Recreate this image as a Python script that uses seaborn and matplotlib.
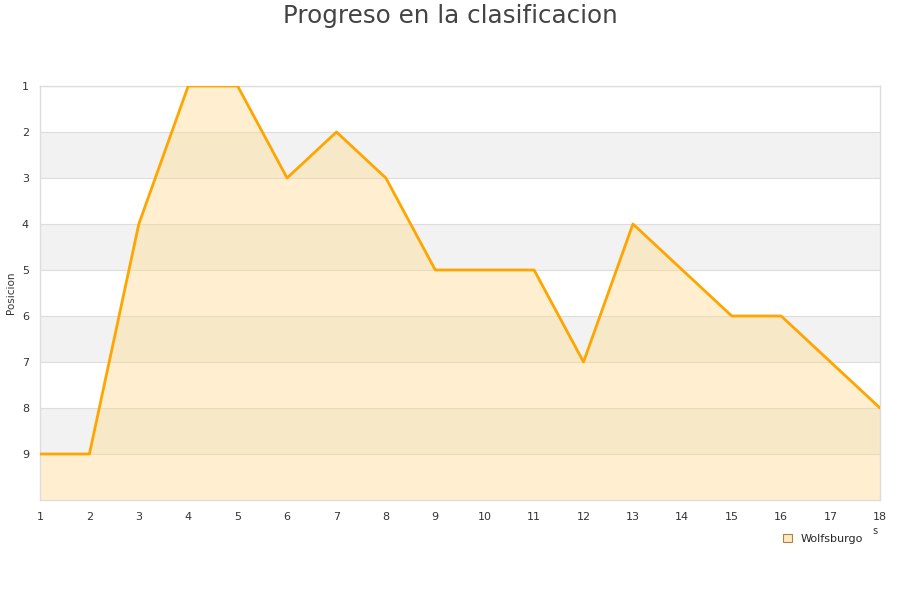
import matplotlib
matplotlib.use("Agg")
import matplotlib.pyplot as plt
import seaborn as sns
import pandas as pd
from matplotlib.patches import Patch

jornadas = list(range(1, 19))
posiciones = [9, 9, 4, 1, 1, 3, 2, 3, 5, 5, 5, 7, 4, 5, 6, 6, 7, 8]
equipo = "Wolfsburgo"
titulo = "Progreso en la clasificacion"
ylabel = "Posicion"

df = pd.DataFrame({"Jornada": jornadas, "Posicion": posiciones})

sns.set_theme(style="white")
plt.rcParams['font.family'] = ['DejaVu Sans']

fig = plt.figure(figsize=(9, 6), dpi=100)
ax = fig.add_axes([40/900, 1-500/600, 840/900, 414/600])

# alternating bands
for y0 in [2, 4, 6, 8]:
    ax.axhspan(y0, y0 + 1, color="#f2f2f2", zorder=0, lw=0)
for y in range(1, 10):
    ax.axhline(y, color="#dddddd", lw=0.8, zorder=0.5)

ax.fill_between(df["Jornada"], df["Posicion"], 10, color="#ffd98a", alpha=0.4, lw=0, zorder=1)
sns.lineplot(data=df, x="Jornada", y="Posicion", ax=ax, color="#ffa500", lw=2.0, zorder=3)

ax.set_xlim(1, 18)
ax.set_ylim(10, 1)
ax.set_xticks(jornadas)
ax.set_yticks(range(1, 10))
ax.tick_params(axis="x", labelsize=8, colors="#333333", length=0, pad=9)
ax.tick_params(axis="y", labelsize=8, colors="#333333", length=0, pad=8)
ax.set_xlabel("")
ax.set_ylabel(ylabel, fontsize=7.5, color="#333333")
ax.yaxis.set_label_coords(-24/840, 0.5)
for s in ax.spines.values():
    s.set_color("#dddddd")
    s.set_linewidth(1)

fig.suptitle(titulo, y=0.993, fontsize=17.7, color="#444444")

handle = Patch(facecolor="#ffe9c0", edgecolor="#b08040", lw=0.8)
leg = fig.legend([handle], [equipo], loc="center", bbox_to_anchor=(823/900, 1-539/600),
                 frameon=False, fontsize=8, handlelength=0.8, handleheight=0.8, handletextpad=0.8)
fig.text(875/900, 1-531/600, "s", fontsize=7, color="#333333", ha="center", va="center")

fig.savefig("out.png", dpi=100)
